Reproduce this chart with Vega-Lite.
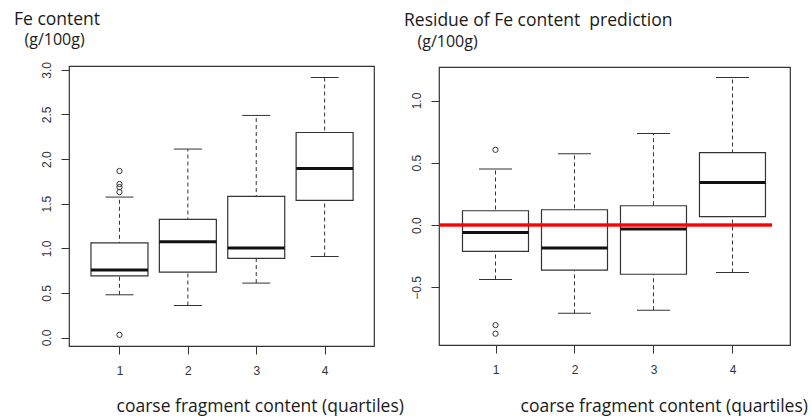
{
  "$schema": "https://vega.github.io/schema/vega-lite/v6.json",
  "padding": {"left": 13, "top": 9, "right": 0, "bottom": 0},
  "background": "white",
  "datasets": {
    "feStats": [
      {"q": 1, "lower": 0.479, "q1": 0.692, "median": 0.756, "q3": 1.061, "upper": 1.574},
      {"q": 2, "lower": 0.359, "q1": 0.733, "median": 1.073, "q3": 1.323, "upper": 2.112},
      {"q": 3, "lower": 0.61, "q1": 0.886, "median": 1.002, "q3": 1.581, "upper": 2.489},
      {"q": 4, "lower": 0.908, "q1": 1.536, "median": 1.895, "q3": 2.298, "upper": 2.915}
    ],
    "feOut": [
      {"q": 1, "value": 1.866},
      {"q": 1, "value": 1.72},
      {"q": 1, "value": 1.686},
      {"q": 1, "value": 1.63},
      {"q": 1, "value": 0.03}
    ],
    "resStats": [
      {"q": 1, "lower": -0.437, "q1": -0.212, "median": -0.059, "q3": 0.115, "upper": 0.451},
      {"q": 2, "lower": -0.709, "q1": -0.362, "median": -0.185, "q3": 0.123, "upper": 0.572},
      {"q": 3, "lower": -0.684, "q1": -0.395, "median": -0.032, "q3": 0.155, "upper": 0.735},
      {"q": 4, "lower": -0.381, "q1": 0.067, "median": 0.341, "q3": 0.582, "upper": 1.184}
    ],
    "resOut": [
      {"q": 1, "value": 0.604},
      {"q": 1, "value": -0.803},
      {"q": 1, "value": -0.872}
    ]
  },
  "hconcat": [
    {
      "width": 305,
      "height": 280,
      "title": {"text": "Fe content", "anchor": "start", "frame": "group", "dx": -55, "offset": -11, "baseline": "alphabetic", "font": "Open Sans", "fontSize": 17.5, "fontWeight": "normal", "color": "#1a1a1a"},
      "data": {"name": "feStats"},
      "layer": [
        {
          "mark": {"type": "rule", "strokeDash": [4, 3], "color": "#333", "strokeWidth": 1},
          "encoding": {
            "x": {"field": "q", "type": "quantitative", "scale": {"domain": [0.335, 4.649], "nice": false, "zero": false},
              "axis": {"values": [1, 2, 3, 4], "format": "d", "title": "coarse fragment content (quartiles)", "titleFontSize": 17.5, "titleAlign": "left", "titleAnchor": "start", "titleX": 47, "titleY": 51, "titleBaseline": "top"}},
            "y": {"field": "lower", "type": "quantitative", "scale": {"domain": [-0.095, 3.043], "nice": false, "zero": false},
              "axis": {"values": [0, 0.5, 1, 1.5, 2, 2.5, 3], "format": ".1f", "title": "(g/100g)", "titleAngle": 0, "titleAlign": "left", "titleAnchor": "start", "titleBaseline": "top", "titleX": -45, "titleY": -35}},
            "y2": {"field": "upper"}
          }
        },
        {
          "mark": {"type": "tick", "orient": "horizontal", "size": 28, "thickness": 1, "color": "#333", "opacity": 1},
          "encoding": {"x": {"field": "q", "type": "quantitative"}, "y": {"field": "lower", "type": "quantitative"}}
        },
        {
          "mark": {"type": "tick", "orient": "horizontal", "size": 28, "thickness": 1, "color": "#333", "opacity": 1},
          "encoding": {"x": {"field": "q", "type": "quantitative"}, "y": {"field": "upper", "type": "quantitative"}}
        },
        {
          "mark": {"type": "bar", "orient": "vertical", "width": 57, "fill": "white", "stroke": "#333", "strokeWidth": 1.2, "opacity": 1},
          "encoding": {"x": {"field": "q", "type": "quantitative"}, "y": {"field": "q1", "type": "quantitative"}, "y2": {"field": "q3"}}
        },
        {
          "mark": {"type": "tick", "orient": "horizontal", "size": 57, "thickness": 3, "color": "#111", "opacity": 1},
          "encoding": {"x": {"field": "q", "type": "quantitative"}, "y": {"field": "median", "type": "quantitative"}}
        },
        {
          "data": {"name": "feOut"},
          "mark": {"type": "point", "shape": "circle", "size": 28, "filled": false, "stroke": "#333", "strokeWidth": 1, "opacity": 1},
          "encoding": {"x": {"field": "q", "type": "quantitative"}, "y": {"field": "value", "type": "quantitative"}}
        }
      ]
    },
    {
      "width": 351,
      "height": 278,
      "title": {"text": "Residue of Fe content\u00a0 prediction", "anchor": "start", "frame": "group", "dx": -35, "offset": -10, "baseline": "alphabetic", "font": "Open Sans", "fontSize": 17.5, "fontWeight": "normal", "color": "#1a1a1a"},
      "data": {"name": "resStats"},
      "layer": [
        {
          "mark": {"type": "rule", "strokeDash": [4, 3], "color": "#333", "strokeWidth": 1},
          "encoding": {
            "x": {"field": "q", "type": "quantitative", "scale": {"domain": [0.348, 4.665], "nice": false, "zero": false},
              "axis": {"values": [1, 2, 3, 4], "format": "d", "title": "coarse fragment content (quartiles)", "titleFontSize": 17.5, "titleAlign": "left", "titleAnchor": "start", "titleX": 81, "titleY": 52, "titleBaseline": "top"}},
            "y": {"field": "lower", "type": "quantitative", "scale": {"domain": [-0.963, 1.269], "nice": false, "zero": false},
              "axis": {"values": [-0.5, 0, 0.5, 1], "format": ".1f", "title": "(g/100g)", "titleAngle": 0, "titleAlign": "left", "titleAnchor": "start", "titleBaseline": "top", "titleX": -22, "titleY": -34}},
            "y2": {"field": "upper"}
          }
        },
        {
          "mark": {"type": "tick", "orient": "horizontal", "size": 33, "thickness": 1, "color": "#333", "opacity": 1},
          "encoding": {"x": {"field": "q", "type": "quantitative"}, "y": {"field": "lower", "type": "quantitative"}}
        },
        {
          "mark": {"type": "tick", "orient": "horizontal", "size": 33, "thickness": 1, "color": "#333", "opacity": 1},
          "encoding": {"x": {"field": "q", "type": "quantitative"}, "y": {"field": "upper", "type": "quantitative"}}
        },
        {
          "mark": {"type": "bar", "orient": "vertical", "width": 66, "fill": "white", "stroke": "#333", "strokeWidth": 1.2, "opacity": 1},
          "encoding": {"x": {"field": "q", "type": "quantitative"}, "y": {"field": "q1", "type": "quantitative"}, "y2": {"field": "q3"}}
        },
        {
          "mark": {"type": "tick", "orient": "horizontal", "size": 66, "thickness": 3, "color": "#111", "opacity": 1},
          "encoding": {"x": {"field": "q", "type": "quantitative"}, "y": {"field": "median", "type": "quantitative"}}
        },
        {
          "data": {"name": "resOut"},
          "mark": {"type": "point", "shape": "circle", "size": 28, "filled": false, "stroke": "#333", "strokeWidth": 1, "opacity": 1},
          "encoding": {"x": {"field": "q", "type": "quantitative"}, "y": {"field": "value", "type": "quantitative"}}
        },
        {
          "mark": {"type": "rule", "color": "#ff0000", "strokeWidth": 2.5, "clip": true},
          "encoding": {"x": {"datum": 0}, "x2": {"datum": 4.5}, "y": {"datum": 0}}
        }
      ]
    }
  ],
  "spacing": 65,
  "bounds": "flush",
  "center": true,
  "config": {
    "view": {"stroke": "#333", "strokeWidth": 1.2},
    "axis": {
      "domain": false,
      "grid": false,
      "ticks": true,
      "tickColor": "#333",
      "tickWidth": 1,
      "labelFont": "Liberation Sans",
      "labelFontSize": 12,
      "labelColor": "#333",
      "titleFont": "Open Sans",
      "titleFontSize": 16,
      "titleFontWeight": "normal",
      "titleColor": "#1a1a1a"
    },
    "axisX": {"tickSize": 8, "labelPadding": 11, "labelAngle": 0},
    "axisY": {"tickSize": 8, "labelAngle": 270, "labelAlign": "center", "labelBaseline": "alphabetic", "labelPadding": 11}
  }
}
